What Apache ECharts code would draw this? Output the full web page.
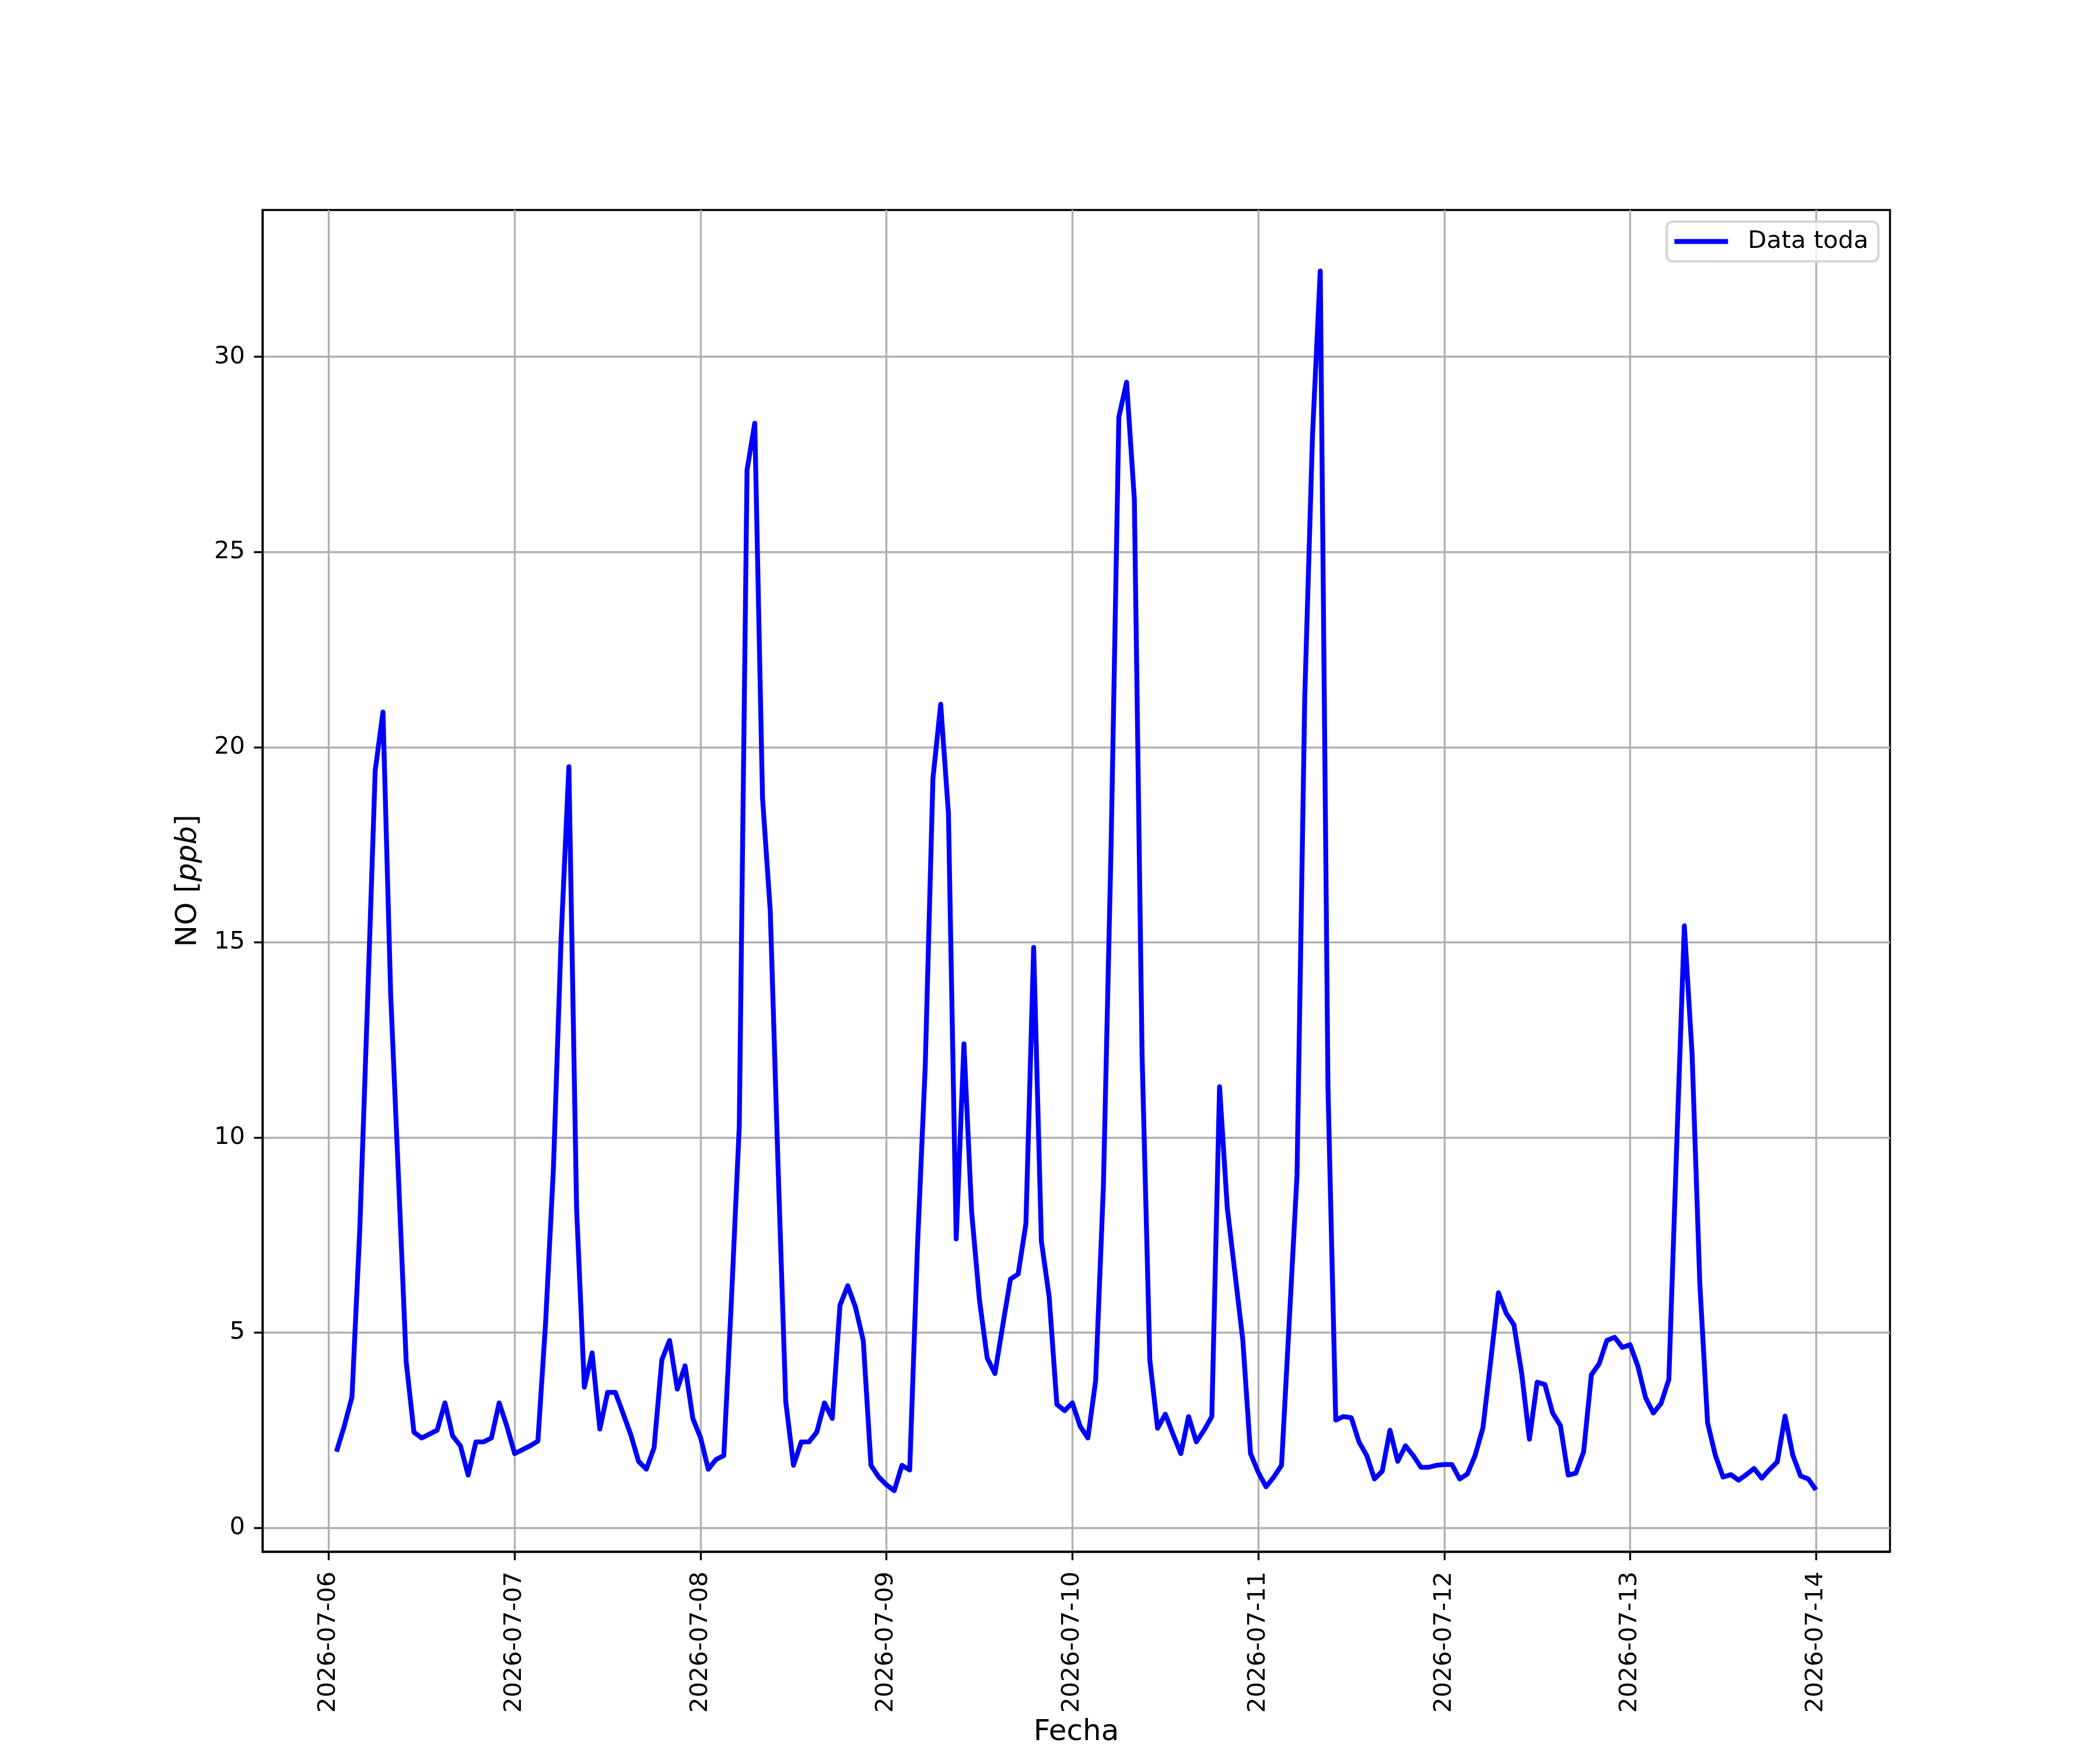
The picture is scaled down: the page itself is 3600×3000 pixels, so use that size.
<!DOCTYPE html>
<html>
<head>
<meta charset="utf-8">
<script src="https://cdn.jsdelivr.net/npm/echarts@6/dist/echarts.min.js"></script>
<style>
html,body{margin:0;padding:0;background:#ffffff;}
#chart{width:3600px;height:3000px;}
</style>
</head>
<body>
<div id="chart"></div>
<script>
// Hourly NO values, starting 2026-07-06 01:00 (UTC)
const startTime = '2026-07-06T01:00:00Z';
const dayLabels = ['2026-07-06','2026-07-07','2026-07-08','2026-07-09','2026-07-10','2026-07-11','2026-07-12','2026-07-13','2026-07-14'];
const yTicks = [0, 5, 10, 15, 20, 25, 30];
const seriesName = 'Data toda';

const day1 = [1.95, 2.6, 3.35, 7.6, 13.4, 19.4, 20.9, 13.65, 9.0, 4.25, 2.45, 2.3, 2.4, 2.5, 3.2, 2.35, 2.1, 1.35, 2.2, 2.2, 2.3, 3.2, 2.6, 1.9];
const day2 = [2.0, 2.1, 2.22, 5.27, 9.18, 15.1, 19.5, 8.16, 3.6, 4.48, 2.53, 3.47, 3.47, 2.93, 2.38, 1.7, 1.5, 2.05, 4.3, 4.8, 3.55, 4.15, 2.8, 2.31];
const day3 = [1.5, 1.75, 1.85, 5.9, 10.3, 27.1, 28.3, 18.7, 15.8, 9.3, 3.23, 1.6, 2.2, 2.2, 2.45, 3.2, 2.8, 5.7, 6.2, 5.65, 4.8, 1.6, 1.3, 1.1];
const day4 = [0.95, 1.6, 1.48, 7.2, 11.8, 19.2, 21.1, 18.3, 7.4, 12.4, 8.08, 5.85, 4.35, 3.95, 5.17, 6.37, 6.5, 7.79, 14.87, 7.34, 5.92, 3.16, 3.0, 3.2];
const day5 = [2.6, 2.3, 3.76, 8.72, 17.5, 28.46, 29.35, 26.35, 12.1, 4.29, 2.55, 2.91, 2.39, 1.9, 2.85, 2.2, 2.5, 2.85, 11.3, 8.19, 6.5, 4.81, 1.9, 1.42];
const day6 = [1.05, 1.3, 1.6, 5.3, 9.04, 21.3, 28.0, 32.2, 11.24, 2.76, 2.85, 2.82, 2.2, 1.85, 1.25, 1.45, 2.5, 1.7, 2.1, 1.85, 1.55, 1.55, 1.6, 1.62];
const day7 = [1.62, 1.25, 1.38, 1.86, 2.56, 4.27, 6.02, 5.5, 5.2, 3.96, 2.27, 3.73, 3.67, 2.94, 2.62, 1.35, 1.4, 1.95, 3.92, 4.2, 4.8, 4.88, 4.62, 4.69];
const day8 = [4.14, 3.33, 2.94, 3.19, 3.8, 9.7, 15.42, 12.14, 6.25, 2.69, 1.86, 1.3, 1.36, 1.22, 1.36, 1.52, 1.27, 1.49, 1.69, 2.86, 1.86, 1.33, 1.25, 0.97];

const values = [].concat(day1, day2, day3, day4, day5, day6, day7, day8);
const t0 = Date.parse(startTime);
const HOUR = 3600 * 1000;
const points = values.map((v, i) => [t0 + i * HOUR, v]);

const tMin = t0, tMax = t0 + (values.length - 1) * HOUR;
const xPad = (tMax - tMin) * 0.05;
const vMin = Math.min.apply(null, values), vMax = Math.max.apply(null, values);
const yPad = (vMax - vMin) * 0.05;
const dayTicks = dayLabels.map(d => Date.parse(d + 'T00:00:00Z'));

function fmtDay(ts) {
  return new Date(ts).toISOString().slice(0, 10);
}

const FONT = 'DejaVu Sans';
const chart = echarts.init(document.getElementById('chart'), null, {renderer: 'canvas'});
chart.setOption({
  animation: false,
  backgroundColor: '#ffffff',
  textStyle: {fontFamily: FONT},
  grid: {
    left: 450, right: 360, top: 360, bottom: 330,
    show: true, borderColor: '#000000', borderWidth: 3.33, backgroundColor: 'transparent'
  },
  legend: {
    data: [{name: seriesName, icon: 'rect'}],
    right: 380, top: 380,
    orient: 'vertical',
    itemWidth: 92, itemHeight: 8.33,
    padding: [13, 17, 13, 13],
    backgroundColor: 'rgba(255,255,255,0.8)',
    borderColor: '#d6d6d6', borderWidth: 4.17, borderRadius: 10,
    textStyle: {fontSize: 41.7, color: '#000000', fontFamily: FONT, padding: [0, 0, 0, 29]}
  },
  xAxis: {
    type: 'value',
    min: tMin - xPad, max: tMax + xPad,
    name: 'Fecha', nameLocation: 'middle', nameGap: 285,
    nameTextStyle: {fontSize: 50, color: '#000000', fontFamily: FONT},
    axisLine: {show: true, onZero: false, lineStyle: {color: '#000000', width: 3.33}},
    axisTick: {show: true, customValues: dayTicks, length: 14.6, lineStyle: {color: '#000000', width: 3.33}},
    axisLabel: {customValues: dayTicks, rotate: 90, fontSize: 41.7, color: '#000000', fontFamily: FONT, margin: 34,
      formatter: v => fmtDay(v)},
    splitLine: {show: true, lineStyle: {color: '#b0b0b0', width: 3.33}}
  },
  yAxis: {
    type: 'value',
    min: vMin - yPad, max: vMax + yPad,
    name: 'NO [{i|ppb}]', nameLocation: 'middle', nameGap: 102, nameRotate: 90,
    nameTextStyle: {fontSize: 50, color: '#000000', fontFamily: FONT,
      rich: {i: {fontSize: 50, fontStyle: 'italic', color: '#000000', fontFamily: FONT}}},
    axisLine: {show: true, onZero: false, lineStyle: {color: '#000000', width: 3.33}},
    axisTick: {show: true, customValues: yTicks, length: 14.6, lineStyle: {color: '#000000', width: 3.33}},
    axisLabel: {customValues: yTicks, fontSize: 41.7, color: '#000000', fontFamily: FONT, margin: 30},
    splitLine: {show: true, lineStyle: {color: '#b0b0b0', width: 3.33}}
  },
  series: [{
    name: seriesName,
    type: 'line',
    data: points,
    showSymbol: false,
    symbol: 'none',
    color: '#0000ff',
    itemStyle: {color: '#0000ff'},
    lineStyle: {color: '#0000ff', width: 8.33, join: 'round', cap: 'butt'},
    emphasis: {disabled: true}
  }]
});
</script>
</body>
</html>
